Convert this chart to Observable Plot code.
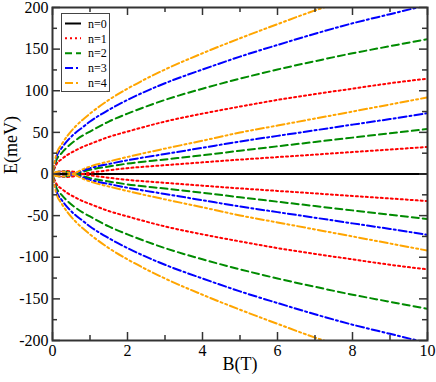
<!DOCTYPE html>
<html><head><meta charset="utf-8">
<script src="https://cdn.jsdelivr.net/npm/d3@7"></script>
<script src="https://cdn.jsdelivr.net/npm/@observablehq/plot@0.6"></script>
<style>
body{margin:0;background:#fff;}
#wrap{position:relative;width:436px;height:382px;}
#legend{position:absolute;left:61px;top:13px;}
svg text{font-family:"Liberation Serif","Times New Roman",Times,serif !important;}
</style></head><body><div id="wrap"></div>
<script>
// Magnetic field samples (T)
const B = [0, 0.1, 0.25, 0.4, 0.6, 0.8, 1, 1.5, 2, 3, 4, 5, 6, 7, 8, 9, 10];

// n=0
const n0 = [0,0,0,0,0,0,0,0,0,0,0,0,0,0,0,0,0];

// outer branches (positive)
const n1OutPos = [0, 11.5, 18, 23, 28, 32.5, 36, 44.5, 51, 63, 72.5, 81, 89, 96, 102.5, 109, 114.6];
const n2OutPos = [0, 16, 25.5, 32.5, 40, 46, 51, 63, 72.5, 89, 102.5, 114.5, 125.5, 135.5, 145, 153.5, 162];
const n3OutPos = [0, 20, 31.5, 40, 49, 56, 63, 77, 89, 109, 125.5, 141, 155, 168.5, 181, 192, 203];
const n4OutPos = [0, 23, 36, 46, 56.5, 65, 72.5, 89, 102.5, 125.5, 145, 163, 180, 196.5, 211, 225, 238];
// inner branches (positive)
const n1InPos = [0, -1.5, -3, -3.5, -2.5, 0, 1.5, 4.5, 7, 10.6, 14, 17.3, 20.3, 23.3, 26.4, 29.4, 32.5];
const n2InPos = [0, -2, -3, -2.5, 0, 2.5, 5, 9, 12.5, 17.5, 22.5, 28, 33.3, 38.5, 43.7, 48.9, 54];
const n3InPos = [0, -2, -3, -2, 0.5, 4, 7, 12, 16.5, 24, 31.5, 39, 45.8, 52.5, 59.3, 66, 73];
const n4InPos = [0, -2.5, -3, -2, 1, 5.5, 9, 15, 20.5, 30.5, 40, 49.8, 58.2, 66.6, 75, 83.5, 92];
// outer branches (negative)
const n1OutNeg = [0, -11.5, -18, -23, -28, -32.5, -36, -44.5, -51, -63, -72.5, -81, -89, -96, -102.5, -109, -114.6];
const n2OutNeg = [0, -16, -25.5, -32.5, -40, -46, -51, -63, -72.5, -89, -102.5, -114.5, -125.5, -135.5, -145, -153.5, -162];
const n3OutNeg = [0, -20, -31.5, -40, -49, -56, -63, -77, -89, -109, -125.5, -141, -155, -168.5, -181, -192, -203];
const n4OutNeg = [0, -23, -36, -46, -56.5, -65, -72.5, -89, -102.5, -125.5, -145, -163, -180, -196.5, -211, -225, -238];
// inner branches (negative)
const n1InNeg = [0, 1.5, 3, 3.5, 2.5, 0, -1.5, -4.5, -7, -10.6, -14, -17.3, -20.3, -23.3, -26.4, -29.4, -32.5];
const n2InNeg = [0, 2, 3, 2.5, 0, -2.5, -5, -9, -12.5, -17.5, -22.5, -28, -33.3, -38.5, -43.7, -48.9, -54];
const n3InNeg = [0, 2, 3, 2, -0.5, -4, -7, -12, -16.5, -24, -31.5, -39, -45.8, -52.5, -59.3, -66, -73];
const n4InNeg = [0, 2.5, 3, 2, -1, -5.5, -9, -15, -20.5, -30.5, -40, -49.8, -58.2, -66.6, -75, -83.5, -92];

const levels = ["n=0", "n=1", "n=2", "n=3", "n=4"];
const colors = ["#000000", "#ff0000", "#008b00", "#0000ff", "#ffa500"];
const dashes = [null, "2,3", "7,4", "8,3,2,3", "8,3,2,3,2,3"];

const xMajor = [0, 2, 4, 6, 8, 10];
const xMinor = [1, 3, 5, 7, 9];
const yMajor = [-200, -150, -100, -50, 0, 50, 100, 150, 200];
const yMinor = [-175, -125, -75, -25, 25, 75, 125, 175];

const seriesByLevel = [
  {"0": n0},
  {outPos: n1OutPos, inPos: n1InPos, outNeg: n1OutNeg, inNeg: n1InNeg},
  {outPos: n2OutPos, inPos: n2InPos, outNeg: n2OutNeg, inNeg: n2InNeg},
  {outPos: n3OutPos, inPos: n3InPos, outNeg: n3OutNeg, inNeg: n3InNeg},
  {outPos: n4OutPos, inPos: n4InPos, outNeg: n4OutNeg, inNeg: n4InNeg}
];

const W = 436, H = 382, mL = 52, mR = 9, mT = 7, mB = 42;
const fw = W - mL - mR, fh = H - mT - mB;
const frameColor = "#333";
const FONT = "'Liberation Serif', 'Times New Roman', Times, serif";

const marks = [];
levels.forEach((lv, i) => {
  const rows = [];
  for (const [branch, arr] of Object.entries(seriesByLevel[i])) {
    arr.forEach((e, k) => rows.push({B: B[k], E: e, branch}));
  }
  marks.push(Plot.line(rows, {
    x: "B", y: "E", z: "branch", stroke: colors[i], strokeWidth: 2,
    strokeDasharray: dashes[i], curve: "monotone-x", clip: true
  }));
});

// inward ticks on all four sides
marks.push(
  Plot.tickX(xMajor, {x: d => d, insetTop: fh - 8, stroke: frameColor, strokeWidth: 1.5}),
  Plot.tickX(xMinor, {x: d => d, insetTop: fh - 5, stroke: frameColor, strokeWidth: 1.5}),
  Plot.tickX(xMajor, {x: d => d, insetBottom: fh - 8, stroke: frameColor, strokeWidth: 1.5}),
  Plot.tickX(xMinor, {x: d => d, insetBottom: fh - 5, stroke: frameColor, strokeWidth: 1.5}),
  Plot.tickY(yMajor, {y: d => d, insetRight: fw - 8, stroke: frameColor, strokeWidth: 1.5}),
  Plot.tickY(yMinor, {y: d => d, insetRight: fw - 5, stroke: frameColor, strokeWidth: 1.5}),
  Plot.tickY(yMajor, {y: d => d, insetLeft: fw - 8, stroke: frameColor, strokeWidth: 1.5}),
  Plot.tickY(yMinor, {y: d => d, insetLeft: fw - 5, stroke: frameColor, strokeWidth: 1.5}),
  Plot.frame({stroke: frameColor, strokeWidth: 2}),
  Plot.axisX({ticks: xMajor, tickSize: 0, tickPadding: 4, tickFormat: d => String(d), fontSize: 16, fontFamily: FONT, label: null}),
  Plot.axisY({ticks: yMajor, tickSize: 0, tickPadding: 4, tickFormat: d => String(d), fontSize: 16, fontFamily: FONT, label: null}),
  Plot.text(["B(T)"], {frameAnchor: "bottom", dy: 29, fontSize: 18, fontFamily: FONT, fill: "#000"}),
  Plot.text(["E(meV)"], {frameAnchor: "left", dx: -41, rotate: -90, fontSize: 18, fontFamily: FONT, fill: "#000"})
);

const chart = Plot.plot({
  width: W, height: H,
  marginLeft: mL, marginRight: mR, marginTop: mT, marginBottom: mB,
  x: {domain: [0, 10]},
  y: {domain: [-200, 200]},
  style: {fontFamily: FONT, fontSize: "16px", color: "#000", background: "#fff", overflow: "visible"},
  marks
});
const wrap = document.getElementById("wrap");
wrap.appendChild(chart);

// legend inside the frame (top-left)
const lw = 49, lh = 79;
const leg = d3.select(wrap).append("svg").attr("id", "legend")
  .attr("width", lw).attr("height", lh);
leg.append("rect").attr("x", 0.5).attr("y", 0.5).attr("width", lw - 1).attr("height", lh - 1)
  .attr("fill", "#fff").attr("stroke", "#444").attr("stroke-width", 1);
levels.forEach((lv, i) => {
  const y = 10.5 + i * 14.85;
  const l = leg.append("line").attr("x1", 4).attr("x2", 20).attr("y1", y).attr("y2", y)
    .attr("stroke", colors[i]).attr("stroke-width", 2);
  if (dashes[i]) l.attr("stroke-dasharray", dashes[i]);
  leg.append("text").attr("x", 27).attr("y", y).attr("dy", "0.35em")
    .attr("font-family", FONT).attr("font-size", 12).attr("fill", "#000").text(lv);
});
</script></body></html>
